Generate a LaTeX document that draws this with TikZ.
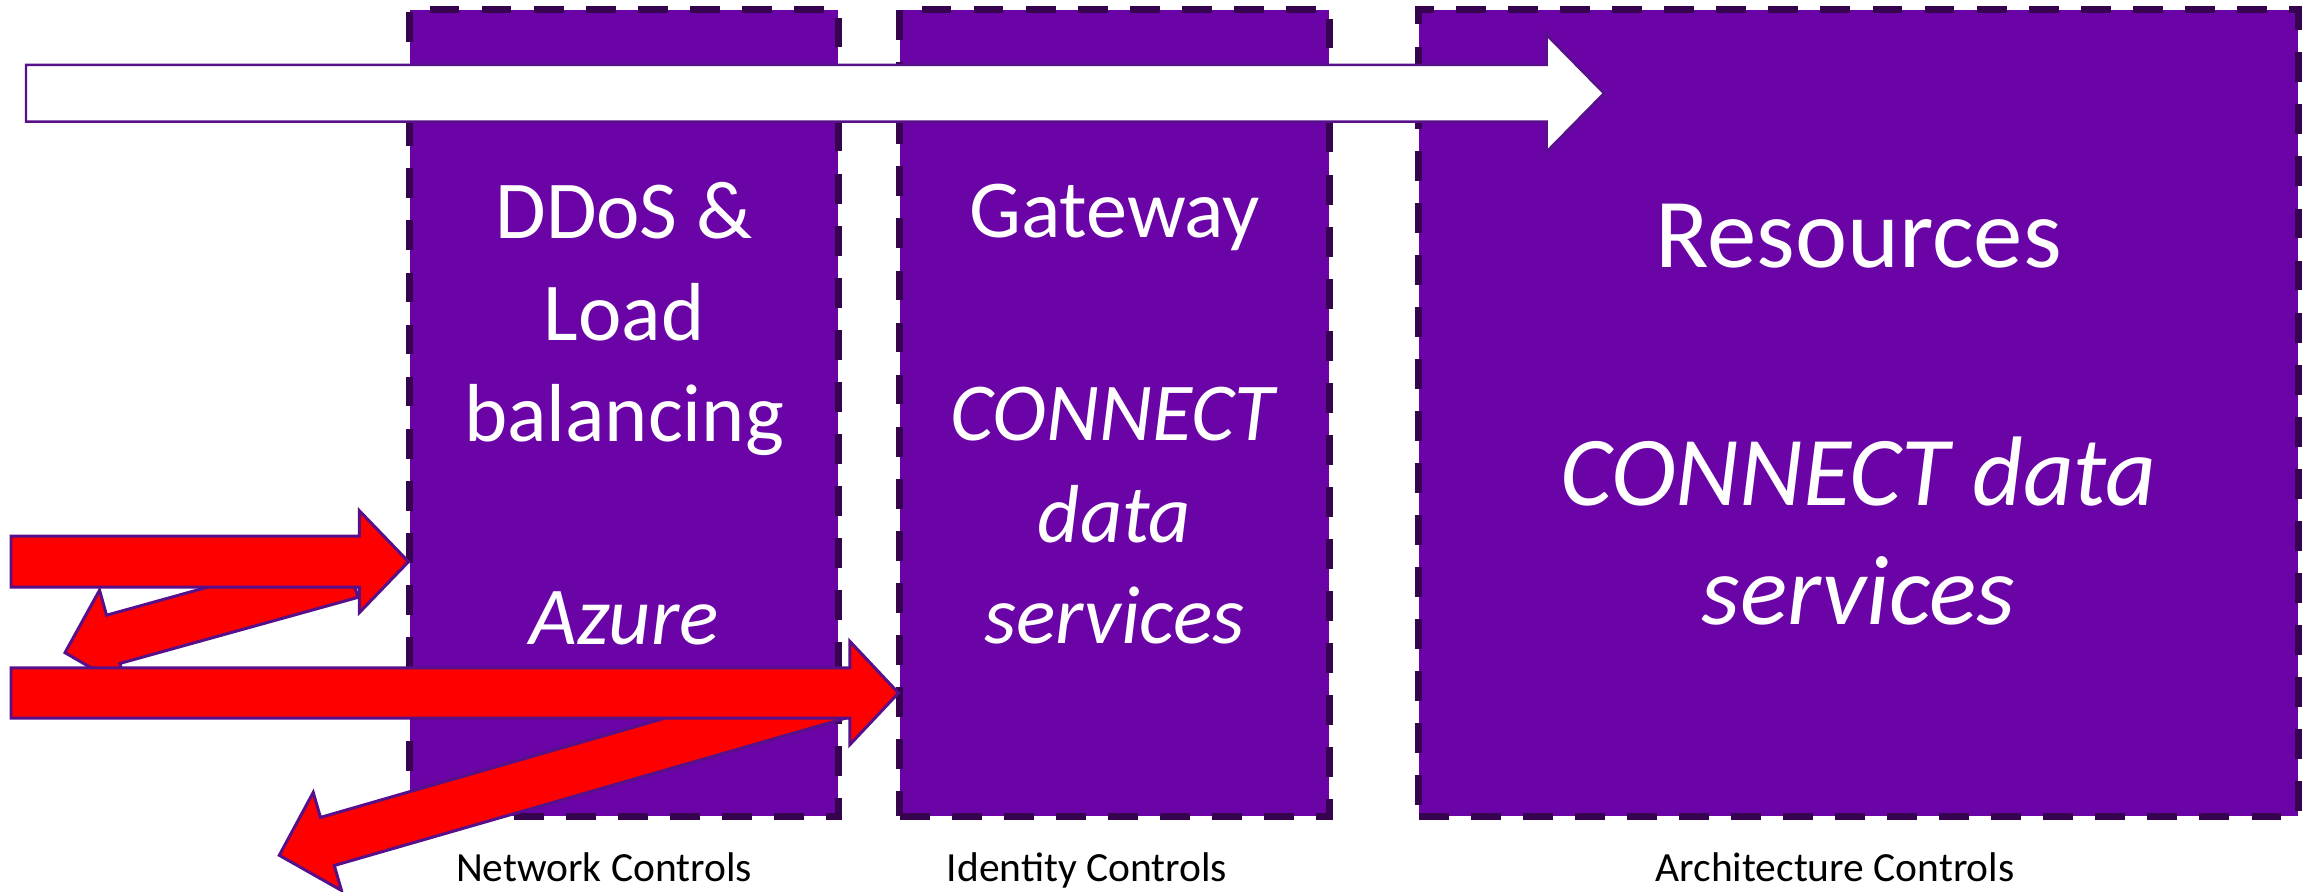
\documentclass[tikz,border=0pt]{standalone}
\usepackage{fontspec}
\setmainfont{Carlito}
\usetikzlibrary{calc}
\definecolor{boxfill}{HTML}{6A04A6}
\definecolor{boxdash}{HTML}{36044F}
\definecolor{arrline}{HTML}{57108A}
\definecolor{arrred}{HTML}{FF0000}
% #1 style, #2 tail centre, #3 tip, #4 half shaft width, #5 half head width, #6 head length
\newcommand{\myblockarrow}[6]{%
  \coordinate (tmpbase) at ($(#3)!#6!(#2)$);
  \draw[#1] ($(#2)!#4!90:(#3)$) -- ($(tmpbase)!#4!90:(#3)$) -- ($(tmpbase)!#5!90:(#3)$)
    -- (#3) -- ($(tmpbase)!#5!-90:(#3)$) -- ($(tmpbase)!#4!-90:(#3)$)
    -- ($(#2)!#4!-90:(#3)$) -- cycle;}
\tikzset{
  ctrlbox/.style={draw=boxdash, fill=boxfill, line width=2pt,
    dash pattern=on 8.5pt off 6.3pt, inner sep=0pt, outer sep=0pt},
  midtxt/.style={text=white, align=center, font={\fontsize{23.4}{28.9}\selectfont}},
  largetxt/.style={text=white, align=center, font={\fontsize{28.1}{33.9}\selectfont}},
  lbl/.style={text=black, font={\fontsize{11.8}{14}\selectfont}, anchor=base},
  redarrow/.style={fill=arrred, draw=arrline, line width=0.85pt, line join=miter},
  whitearrow/.style={fill=white, draw=arrline, line width=0.7pt, line join=miter}
}
\begin{document}
\begin{tikzpicture}[x=0.01cm, y=-0.01cm]
\useasboundingbox (0,0) rectangle (2315,892);
% control boxes
\node[ctrlbox, minimum width=4.28cm, minimum height=8.06cm] (box1) at (624,413) {};
\node[ctrlbox, minimum width=4.29cm, minimum height=8.06cm] (box2) at (1114.5,413) {};
\node[ctrlbox, minimum width=8.79cm, minimum height=8.06cm] (box3) at (1858.5,413) {};
% box texts (base anchor = baseline of the last line)
\node[midtxt, anchor=base] (t1) at (624,645) {DDoS \&\\Load\\balancing\\\mbox{}\\\textit{Azure}};
\node[midtxt, anchor=base] (t2) at (1114.5,644) {Gateway\\\mbox{}\\\textit{CONNECT}\\\textit{data}\\\textit{services}};
\node[largetxt, anchor=base] (t3) at (1858.5,625) {Resources\\\mbox{}\\\textit{CONNECT data}\\\textit{services}};
% labels
\node[lbl] (l1) at (604,881.7) {Network Controls};
\node[lbl] (l2) at (1087,881.7) {Identity Controls};
\node[lbl] (l3) at (1835,881.7) {Architecture Controls};
% arrow end points
\coordinate (wtail) at (26,93.3);
\coordinate (wtip) at (1604,93.3);
\coordinate (a1tail) at (11,561.7);
\coordinate (a1tip) at (408.5,561.7);
\coordinate (a2tail) at (351.2,573.3);
\coordinate (a2tip) at (65,652.7);
\coordinate (a3tail) at (11,693);
\coordinate (a3tip) at (898.5,693);
\coordinate (a4tail) at (839.2,694);
\coordinate (a4tip) at (279.3,855.3);
% arrows
\myblockarrow{whitearrow}{wtail}{wtip}{0.283cm}{0.583cm}{0.573cm}
\myblockarrow{redarrow}{a2tail}{a2tip}{0.25cm}{0.51cm}{0.50cm}
\myblockarrow{redarrow}{a4tail}{a4tip}{0.25cm}{0.51cm}{0.50cm}
\myblockarrow{redarrow}{a1tail}{a1tip}{0.255cm}{0.508cm}{0.49cm}
\myblockarrow{redarrow}{a3tail}{a3tip}{0.25cm}{0.515cm}{0.485cm}
\end{tikzpicture}
\end{document}
